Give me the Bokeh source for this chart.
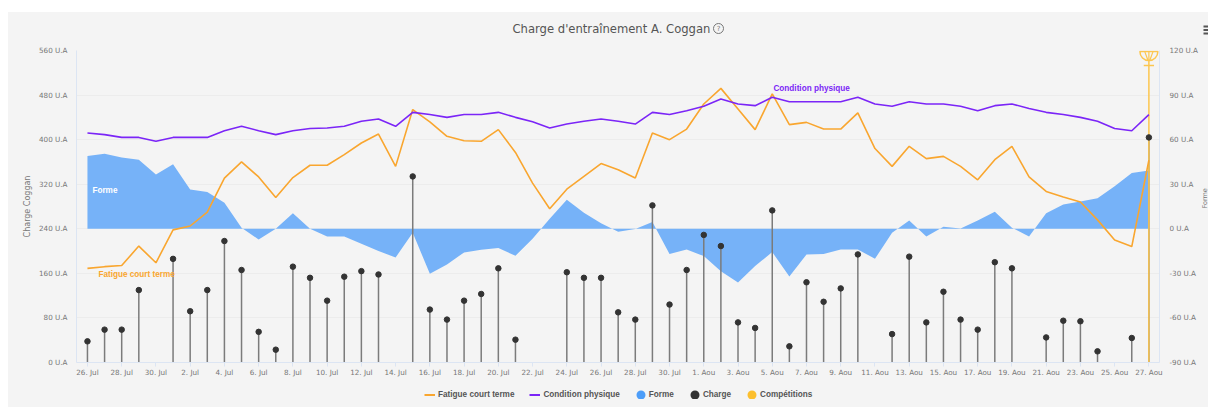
from bokeh.embed import file_html
from bokeh.layouts import column, row
from bokeh.models import (ColumnDataSource, FixedTicker, Label, Legend, LegendItem,
                          LinearAxis, Range1d, Spacer)
from bokeh.plotting import figure
from bokeh.resources import INLINE
import math

nan = float("nan")
title_text = "Charge d'entraînement A. Coggan"
months = ["Jul"] * 36 + ["Aou"] * 27
day_numbers = [26, 27, 28, 29, 30] + list(range(1, 32)) + list(range(1, 28))
fatigue = [169, 172, 174, 209, 179, 238, 245, 270, 331, 360, 333, 296, 332, 354, 354, 373, 394, 410, 352, 454,
           432, 406, 398, 397, 418, 377, 322, 276, 311, 334, 357, 346, 331, 412, 400, 419, 464, 492, 455, 418,
           482, 427, 431, 419, 419, 448, 384, 352, 388, 366, 370, 352, 328, 364, 388, 333, 307, 297, 288, 256,
           220, 208, 363]
condition = [412, 409, 404, 404, 397, 404, 404, 404, 416, 424, 416, 409, 416, 420, 421, 424, 433, 437, 424, 449,
             445, 440, 445, 445, 449, 440, 432, 421, 428, 433, 437, 433, 428, 449, 445, 452, 460, 473, 464, 461,
             476, 468, 468, 468, 468, 476, 464, 460, 468, 464, 464, 460, 452, 461, 464, 456, 449, 445, 440, 433,
             420, 416, 445]
forme = [49, 50.5, 48, 46.5, 36.6, 43.5, 26.5, 24.7, 17.5, 0.7, -7.2, 0, 10.5, 0, -5.2, -5.2, -10.1, -15, -19.3, -2.7,
         -30.3, -24, -15.9, -14.1, -13, -18.2, -6.7, 6.7, 19.5, 10.8, 3.8, -2, -0.2, 4.5, -17, -13.9, -18.4, -28.5,
         -36.1, -25.1, -15.7, -32.1, -17.3, -17, -13.9, -13.9, -20.2, -2.7, 5.6, -5.2, 1.3, 0.2, 5.6, 11.4, 0.7, -5.2,
         10.5, 16.4, 18.4, 20.6, 28.7, 37.5, 39.3]
charge = [38, 59, 59, 130, nan, 186, 92, 130, 218, 166, 55, 23, 172, 152, 111, 154, 164, 158, nan, 334,
          95, 77, 111, 123, 169, 41, nan, nan, 162, 152, 152, 90, 77, 282, 104, 166, 229, 209, 72, 62,
          273, 29, 144, 109, 133, 194, nan, 51, 190, 72, 127, 77, 59, 180, 169, nan, 45, 75, 74, 20,
          nan, 44, 404]
competition_day = [62]
competition_top = [533]
left_ticks = [0, 80, 160, 240, 320, 400, 480, 560]
right_ticks = [-90, -60, -30, 0, 30, 60, 90, 120]
days = list(range(len(fatigue)))

GREY_BG = "#f4f4f4"
AXIS_C = "#dce5f3"
TEXT_C = "#777777"
ORANGE = "#f9a62f"
PURPLE = "#7b25f7"
BLUE = "#76b2f8"
DOT = "#333333"
GOLD = "#fcc64f"
FONT = "DejaVu Sans"
TICK_SIZE = "7.2px"


def strip(width, height, xr, yr):
    """A figure whose frame fills it, for texts the main frame would clip."""
    s = figure(width=width, height=height, output_backend="svg", toolbar_location=None,
               x_range=xr, y_range=yr, x_axis_location=None, y_axis_location=None,
               min_border=0, background_fill_color=GREY_BG, border_fill_color=GREY_BG, outline_line_color=None,
               styles={"background-color": GREY_BG})
    s.grid.visible = False
    return s


# main chart
p = figure(width=1192, height=344, output_backend="svg", toolbar_location=None,
           x_range=Range1d(-0.64, 62.62), y_range=Range1d(0, 560),
           min_border_left=68, min_border_right=41, min_border_top=8, min_border_bottom=24,
           background_fill_color=GREY_BG, border_fill_color=GREY_BG, outline_line_color=None,
           styles={"background-color": GREY_BG})
p.extra_y_ranges = {"forme": Range1d(-90, 120)}

src = ColumnDataSource(dict(x=days, fatigue=fatigue, condition=condition, forme=forme, charge=charge,
                            zero=[0] * len(days)))

xax = p.xaxis[0]
xax.ticker = FixedTicker(ticks=days[::2])
xax.major_label_overrides = {d: f"{day_numbers[d]}. {months[d]}" for d in days[::2]}
xax.axis_line_color = AXIS_C
xax.major_tick_line_color = AXIS_C
xax.major_tick_in = 0
xax.major_tick_out = 4
xax.minor_tick_line_color = None
xax.major_label_text_font = FONT
xax.major_label_text_font_size = TICK_SIZE
xax.major_label_text_color = TEXT_C
xax.major_label_standoff = 1

yax = p.yaxis[0]
yax.ticker = FixedTicker(ticks=left_ticks)
yax.major_label_overrides = {v: f"{v} U.A" for v in left_ticks}
yax.axis_line_color = AXIS_C
yax.major_tick_line_color = None
yax.major_tick_in = 0
yax.major_tick_out = 0
yax.minor_tick_line_color = None
yax.major_label_text_font = FONT
yax.major_label_text_font_size = TICK_SIZE
yax.major_label_text_color = TEXT_C
yax.major_label_standoff = 9
yax.axis_label = "Charge Coggan"
yax.axis_label_text_font = FONT
yax.axis_label_text_font_size = "8px"
yax.axis_label_text_font_style = "normal"
yax.axis_label_text_color = TEXT_C
yax.axis_label_standoff = 4

rax = LinearAxis(y_range_name="forme", ticker=FixedTicker(ticks=right_ticks))
rax.major_label_overrides = {v: f"{v} U.A" for v in right_ticks}
rax.axis_line_color = AXIS_C
rax.major_tick_line_color = None
rax.major_tick_in = 0
rax.major_tick_out = 0
rax.minor_tick_line_color = None
rax.major_label_text_font = FONT
rax.major_label_text_font_size = TICK_SIZE
rax.major_label_text_color = TEXT_C
rax.major_label_standoff = 10
p.add_layout(rax, "right")

p.xgrid.visible = False
p.ygrid.ticker = FixedTicker(ticks=left_ticks)
p.ygrid.grid_line_color = "#ececec"
p.ygrid.grid_line_width = 1

p.varea(x="x", y1="forme", y2="zero", source=src, y_range_name="forme", fill_color=BLUE)
p.segment(x0="x", y0="zero", x1="x", y1="charge", source=src, line_color="#7b7b7b", line_width=1.5)
p.segment(x0=competition_day, y0=[0], x1=competition_day, y1=competition_top, line_color=GOLD, line_width=1.5)
p.line(x="x", y="fatigue", source=src, line_color=ORANGE, line_width=1.6)
p.line(x="x", y="condition", source=src, line_color=PURPLE, line_width=1.6)
p.scatter(x="x", y="charge", source=src, size=5.5, fill_color=DOT, line_color=DOT)

# competition trophy, composed around the competition's own position
cx = competition_day[0]
rim = competition_top[0] + 25
p.wedge(x=[cx], y=[rim], radius=9, radius_units="screen", start_angle=math.pi, end_angle=2 * math.pi,
        fill_color=None, line_color=GOLD, line_width=1.5)
p.segment(x0=[cx - 0.24, cx + 0.24, cx], y0=[rim, rim, rim], x1=[cx - 0.05, cx + 0.05, cx],
          y1=[rim - 16, rim - 16, rim - 16], line_color=GOLD, line_width=1.2)
p.segment(x0=[cx], y0=competition_top, x1=[cx], y1=[rim - 16], line_color=GOLD, line_width=1.5)
p.segment(x0=[cx - 0.3], y0=competition_top, x1=[cx + 0.3], y1=competition_top, line_color=GOLD, line_width=1.5)

for text, x, y, col in [("Forme", 0.29, 309, "#ffffff"), ("Fatigue court terme", 0.64, 158, ORANGE),
                        ("Condition physique", 40.07, 492, PURPLE)]:
    p.add_layout(Label(x=x, y=y, text=text, text_color=col, text_font="Liberation Sans", text_font_size="8.2px",
                       text_font_style="bold", text_baseline="middle"))

# header: title, help icon, menu icon
head = strip(1200, 30, Range1d(0, 1200), Range1d(30, 0))
head.add_layout(Label(x=504, y=16, text=title_text, text_font=FONT, text_font_size="11.6px",
                      text_color="#555555", text_baseline="middle"))
head.scatter(x=[710], y=[16], size=10, fill_color=None, line_color="#777777", line_width=1)
head.add_layout(Label(x=710, y=16, text="?", text_font=FONT, text_font_size="7px", text_color="#777777",
                      text_align="center", text_baseline="middle"))
head.segment(x0=[1195, 1195, 1195], x1=[1200, 1200, 1200], y0=[14, 17.5, 21], y1=[14, 17.5, 21],
             line_color="#555555", line_width=2)

# right strip: the right axis title, at the very edge of the window
side = strip(8, 344, Range1d(0, 8), Range1d(344, 0))
side.add_layout(Label(x=4, y=163, text="Forme", angle=90, angle_units="deg", text_color=TEXT_C, text_font=FONT,
                      text_font_size="6.5px", text_align="center", text_baseline="middle"))

# bottom strip: legend (its handles' points lie outside the strip's range;
# a legend scales markers down, so a thick outline brings the disc to full size)
foot = strip(1200, 21, Range1d(0, 1), Range1d(0, 1))
h_fatigue = foot.line(x=[-2, -1], y=[-2, -1], line_color=ORANGE, line_width=2)
h_condition = foot.line(x=[-2, -1], y=[-2, -1], line_color=PURPLE, line_width=2)
h_forme = foot.scatter(x=[-2], y=[-2], size=9, fill_color="#4d9df8", line_color="#4d9df8", line_width=5.4)
h_charge = foot.scatter(x=[-2], y=[-2], size=9, fill_color=DOT, line_color=DOT, line_width=5.4)
h_comp = foot.scatter(x=[-2], y=[-2], size=9, fill_color="#fcbf2e", line_color="#fcbf2e", line_width=5.4)
legend = Legend(items=[LegendItem(label="Fatigue court terme", renderers=[h_fatigue]),
                       LegendItem(label="Condition physique", renderers=[h_condition]),
                       LegendItem(label="Forme", renderers=[h_forme]),
                       LegendItem(label="Charge", renderers=[h_charge]),
                       LegendItem(label="Compétitions", renderers=[h_comp])],
                orientation="horizontal", location=(416, 8), background_fill_alpha=0,
                border_line_color=None, glyph_width=11, glyph_height=9, label_standoff=3, spacing=15,
                padding=0, margin=0, label_text_font="Liberation Sans", label_text_font_size="8.2px",
                label_text_font_style="bold", label_text_color="#555555", label_height=10)
foot.add_layout(legend, "center")

inner = column(head, row(p, side), foot, styles={"background-color": GREY_BG})
page = column(Spacer(height=12, width=1208), row(Spacer(width=8, height=395), inner))
open("out.html", "w").write(file_html(page, INLINE))
